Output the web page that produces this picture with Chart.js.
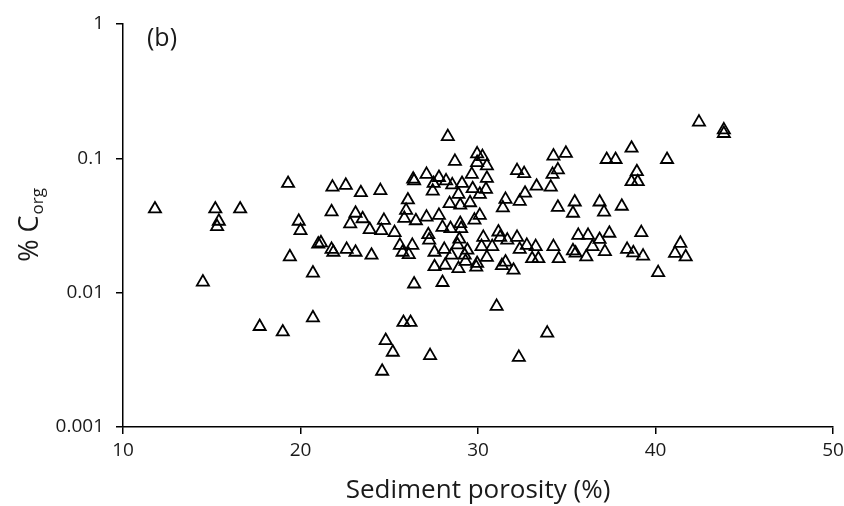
<!DOCTYPE html>
<html>
<head>
<meta charset="utf-8">
<script src="https://cdn.jsdelivr.net/npm/chart.js@4/dist/chart.umd.min.js"></script>
<style>
  html, body { margin: 0; padding: 0; background: #fff; overflow: hidden; }
  #wrap { width: 844px; height: 506px; position: relative; }
  canvas { display: block; }
</style>
</head>
<body>
<div id="wrap"><canvas id="chart"></canvas></div>
<script>
// sediment porosity (%) vs organic carbon (%)
const porosity = [
  11.8, 14.5, 15.2, 15.4, 15.3, 16.6, 17.7, 19.0, 19.3, 19.4, 19.9, 20.0, 20.7, 20.7,
  21.0, 21.15, 21.8, 21.75, 21.75, 21.85, 22.55, 22.6, 23.1, 22.8, 23.4, 23.5, 23.1, 23.9,
  24.0, 24.5, 24.7, 24.55, 25.3, 24.6, 24.8, 25.2, 25.6, 25.75, 25.85, 25.8, 26.1, 26.2,
  26.05, 25.95, 26.3, 26.35, 26.4, 26.5, 26.4, 27.1, 27.1, 27.2, 27.25, 27.3, 27.45, 27.5,
  27.55, 27.55, 27.8, 27.8, 28.0, 28.0, 28.2, 28.1, 28.15, 28.3, 28.4, 28.45, 28.5, 28.55,
  28.7, 28.9, 28.95, 28.85, 28.9, 29.0, 29.0, 29.05, 29.1, 29.25, 29.3, 29.4, 29.55, 29.65,
  29.7, 29.8, 29.95, 29.95, 29.95, 29.9, 30.1, 30.1, 30.2, 30.25, 30.3, 30.45, 30.5, 30.5,
  30.5, 30.8, 31.05, 31.15, 31.25, 31.4, 31.35, 31.55, 31.55, 31.65, 32.0, 32.2, 32.2, 32.3,
  32.35, 32.35, 32.6, 32.65, 32.75, 33.05, 33.25, 33.3, 33.4, 33.9, 34.1, 34.2, 34.25, 34.25,
  34.5, 34.5, 34.55, 34.95, 35.35, 35.35, 35.45, 35.5, 35.65, 36.1, 36.2, 36.45, 36.85, 36.85,
  37.1, 37.15, 37.25, 37.4, 37.75, 38.1, 38.4, 38.65, 38.65, 38.75, 38.95, 39.0, 39.2, 39.3,
  40.15, 40.65, 41.1, 41.4, 41.7, 42.45, 43.85, 43.85
];
const corg = [
  0.042, 0.012, 0.042, 0.034, 0.031, 0.042, 0.0056, 0.0051, 0.065, 0.0185, 0.034, 0.029, 0.0065, 0.014,
  0.023, 0.0235, 0.061, 0.040, 0.021, 0.020, 0.063, 0.021, 0.039, 0.0325, 0.0555, 0.0355, 0.020, 0.0295,
  0.019, 0.0575, 0.0345, 0.029, 0.028, 0.0026, 0.0044, 0.0036, 0.0225, 0.020, 0.0357, 0.0060, 0.0192, 0.0060,
  0.049, 0.041, 0.0225, 0.070, 0.068, 0.0343, 0.0116, 0.076, 0.0365, 0.027, 0.0246, 0.0034, 0.057, 0.065,
  0.020, 0.0156, 0.072, 0.0376, 0.0119, 0.0306, 0.068, 0.021, 0.016, 0.145, 0.046, 0.030, 0.019, 0.0635,
  0.095, 0.054, 0.025, 0.0227, 0.0151, 0.0448, 0.0327, 0.030, 0.065, 0.019, 0.0171, 0.0207, 0.0467, 0.076,
  0.0594, 0.0347, 0.108, 0.093, 0.0165, 0.0155, 0.054, 0.0376, 0.022, 0.103, 0.0258, 0.0588, 0.088, 0.071,
  0.0183, 0.022, 0.0079, 0.0283, 0.0258, 0.0428, 0.0159, 0.0495, 0.0169, 0.0246, 0.0147, 0.081, 0.0258, 0.0033,
  0.0478, 0.021, 0.077, 0.055, 0.0225, 0.0179, 0.022, 0.062, 0.0179, 0.0050, 0.061, 0.076, 0.104, 0.022,
  0.082, 0.0432, 0.0179, 0.109, 0.039, 0.0205, 0.0473, 0.0197, 0.0267, 0.0185, 0.0267, 0.022, 0.0473, 0.0249,
  0.0398, 0.0202, 0.098, 0.0277, 0.098, 0.044, 0.021, 0.119, 0.067, 0.0198, 0.0795, 0.067, 0.028, 0.0187,
  0.0141, 0.098, 0.0196, 0.0233, 0.0185, 0.186, 0.163, 0.153
];
const yTicks = [0.001, 0.01, 0.1, 1];
const yTickLabels = ["0.001", "0.01", "0.1", "1"];
const xTitle = "Sediment porosity (%)";
const panelLabel = "(b)";

const FONT = "'Open Sans', sans-serif";
const INK = "#1a1a1a";

// y title needs a subscript, so draw it by hand
const extraText = {
  id: "extraText",
  afterDraw(chart) {
    const ctx = chart.ctx;
    const area = chart.chartArea;
    ctx.save();
    ctx.fillStyle = INK;
    ctx.textBaseline = "middle";
    ctx.font = "25px " + FONT;
    ctx.fillText(panelLabel, area.left + 24, area.top + 15);

    const main = "% C";
    const sub = "org";
    ctx.translate(38, (area.top + area.bottom) / 2);
    ctx.rotate(-Math.PI / 2);
    ctx.textBaseline = "alphabetic";
    ctx.font = "27px " + FONT;
    const wMain = ctx.measureText(main).width;
    ctx.font = "17px " + FONT;
    const wSub = ctx.measureText(sub).width;
    const start = -(wMain + wSub) / 2;
    ctx.font = "27px " + FONT;
    ctx.fillText(main, start, 0);
    ctx.font = "17px " + FONT;
    ctx.fillText(sub, start + wMain + 1, 5);
    ctx.restore();
  }
};

new Chart(document.getElementById("chart"), {
  type: "scatter",
  data: {
    datasets: [{
      data: porosity.map((x, i) => ({ x, y: corg[i] })),
      pointStyle: "triangle",
      pointRadius: 7,
      pointHoverRadius: 7,
      borderWidth: 1.8,
      borderColor: "#000",
      backgroundColor: "rgba(255,255,255,0)"
    }]
  },
  options: {
    responsive: true,
    maintainAspectRatio: false,
    animation: false,
    events: [],
    layout: { autoPadding: false, padding: { top: 24, right: 11, left: 0, bottom: 0 } },
    plugins: { legend: { display: false }, tooltip: { enabled: false } },
    scales: {
      x: {
        type: "linear",
        min: 10, max: 50,
        afterFit(s) { s.height = 79; s.paddingRight = 0; s.paddingLeft = 0; },
        ticks: { stepSize: 10, color: INK, font: { family: FONT, size: 19 }, padding: 5, maxRotation: 0 },
        grid: { drawOnChartArea: false, drawTicks: true, tickLength: 7, color: "#000", lineWidth: 1.5 },
        border: { display: true, color: "#000", width: 1.5 },
        title: { display: true, text: xTitle, color: INK, font: { family: FONT, size: 26 }, padding: { top: 0, bottom: 0 } }
      },
      y: {
        type: "logarithmic",
        min: 0.001, max: 1,
        afterFit(s) { s.width = 123; },
        afterBuildTicks(s) { s.ticks = yTicks.map(v => ({ value: v })); },
        ticks: {
          color: INK, font: { family: FONT, size: 19 }, padding: 12,
          callback: (v) => yTickLabels[yTicks.indexOf(v)] ?? ""
        },
        grid: { drawOnChartArea: false, drawTicks: true, tickLength: 7, color: "#000", lineWidth: 1.5 },
        border: { display: true, color: "#000", width: 1.5 }
      }
    }
  },
  plugins: [extraText]
});
</script>
</body>
</html>
